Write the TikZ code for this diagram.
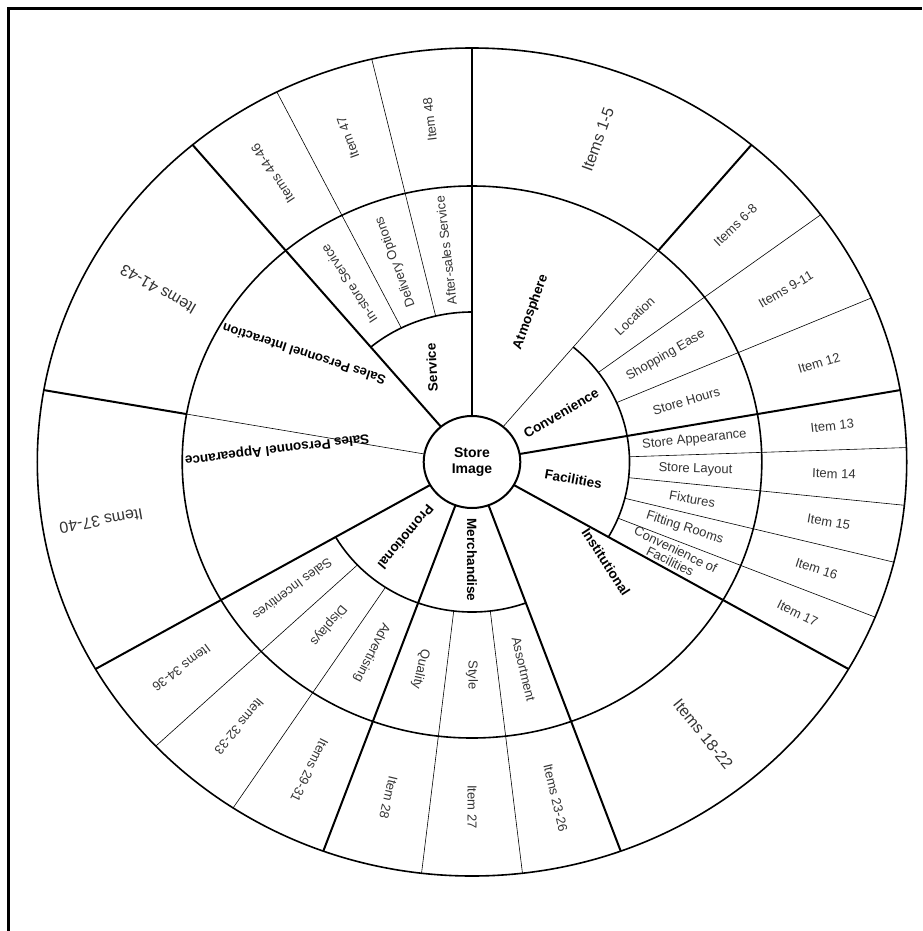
\documentclass[tikz,border=0pt]{standalone}
\usepackage{fontspec}
\setmainfont{Liberation Sans}
\begin{document}
\begin{tikzpicture}[x=1pt,y=1pt,
  catline/.style={line width=2pt},
  midline/.style={line width=1.1pt},
  subline/.style={line width=0.6pt},
  ringline/.style={line width=1.6pt},
  lab/.style={font=\fontsize{13}{13}\selectfont, text=black!80, inner sep=0pt, align=center},
  biglab/.style={font=\fontsize{16}{16}\selectfont, text=black!80, inner sep=0pt},
  blab/.style={font=\bfseries\fontsize{13.5}{14}\selectfont, inner sep=0pt, align=center},
]
\useasboundingbox (0,0) rectangle (922,-931);
\draw[line width=3pt] (8.5,-931) -- (8.5,-9) -- (922,-9);
\begin{scope}[shift={(472,-462)}, xscale=1.05]
  % rings
  \draw[ringline] (0,0) circle[radius=414];
  \draw[ringline] (0,0) circle[radius=276];
  \draw[ringline] (-30:150) arc[start angle=-30, end angle=50, radius=150];
  \draw[ringline] (90:150) arc[start angle=90, end angle=130, radius=150];
  \draw[ringline] (210:150) arc[start angle=210, end angle=290, radius=150];
  % category boundaries
  \foreach \a in {10,-30,-70,-110,210,130}
    \draw[catline] (\a:46) -- (\a:414);
  \draw[midline] (90:46) -- (90:414);
  \draw[subline] (50:46) -- (50:276);
  \draw[catline] (50:276) -- (50:414);
  \draw[subline] (170:46) -- (170:276);
  \draw[catline] (170:276) -- (170:414);
  % sub boundaries
  \foreach \a in {23.333,36.667,2,-6,-14,-22,-83.333,-96.667,223.333,236.667,103.333,116.667}
    \draw[subline] (\a:150) -- (\a:414);
  % centre
  \draw[line width=2pt, fill=white] (0,0) circle[radius=46];
  \node[blab, font=\bfseries\fontsize{14}{16}\selectfont] (centre) at (0,0) {Store\\Image};
  % category labels
  \node[blab, rotate=70] (atm) at (69.5:160) {Atmosphere};
  \node[blab, rotate=30] (conv) at (30:98) {Convenience};
  \node[blab, rotate=-10] (fac) at (-10:98) {Facilities};
  \node[blab, rotate=-57] (inst) at (-38:162) {Institutional};
  \node[blab, rotate=-90] (merch) at (-90:98) {Merchandise};
  \node[blab, rotate=230] (promo) at (230:98) {Promotional};
  \node[blab, rotate=187] (spa) at (176:186) {Sales Personnel Appearance};
  \node[blab, font=\bfseries\fontsize{13}{14}\selectfont, rotate=162] (spi) at (146:193) {Sales Personnel Interaction};
  \node[blab, rotate=93] (serv) at (112:102) {Service};
  % subcategory labels
  \foreach \a/\t/\n in {43.333/Location/loc, 30/Shopping Ease/shop, 16.667/Store Hours/hours,
      6/Store Appearance/sapp, -2/Store Layout/slay, -10/Fixtures/fix, -18/Fitting Rooms/fit,
      -76.667/Assortment/asso, -90/Style/sty, -103.333/Quality/qual,
      243.333/Advertising/adv, 230/Displays/disp, 216.667/Sales Incentives/sinc,
      96.667/After-sales Service/after, 110/Delivery Options/deliv, 123.333/In-store Service/instore}
    \node[lab, rotate=\a] (\n) at (\a:213) {\t};
  \node[lab, rotate=-26] (convfac) at (-26:213) {Convenience of\\Facilities};
  % item labels
  \foreach \a/\t/\n in {43.333/Items 6-8/i6, 30/Items 9-11/i9, 16.667/Item 12/i12,
      6/Item 13/i13, -2/Item 14/i14, -10/Item 15/i15, -18/Item 16/i16, -26/Item 17/i17,
      -76.667/Items 23-26/i23, -90/Item 27/i27, -103.333/Item 28/i28,
      243.333/Items 29-31/i29, 230/Items 32-33/i32, 216.667/Items 34-36/i34,
      123.333/Items 44-46/i44, 110/Item 47/i47, 96.667/Item 48/i48}
    \node[lab, rotate=\a] (\n) at (\a:345) {\t};
  \node[biglab, rotate=70] (i1) at (69.6:344) {Items 1-5};
  \node[biglab, rotate=-51] (i18) at (-51:350) {Items 18-22};
  \node[biglab, rotate=190] (i37) at (189.5:358) {Items 37-40};
  \node[biglab, rotate=150] (i41) at (150:345) {Items 41-43};
\end{scope}
\end{tikzpicture}
\end{document}
